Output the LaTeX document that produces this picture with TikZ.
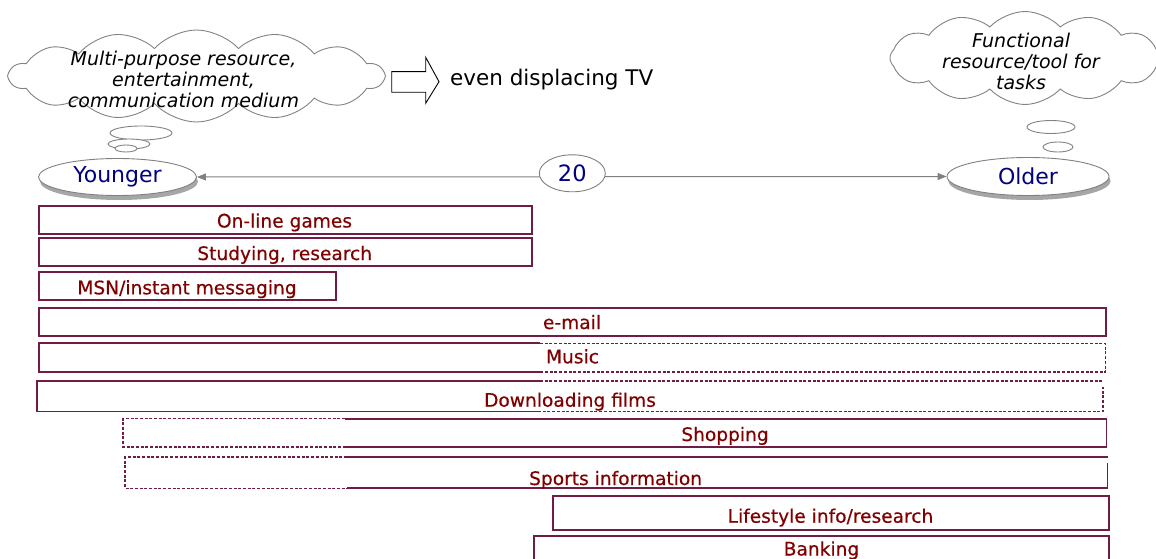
\documentclass[tikz,border=0pt]{standalone}
\usepackage{fontspec}
\setmainfont{DejaVu Sans}
\newfontfamily\barfont[FakeBold=0.5]{DejaVu Sans}
\usetikzlibrary{shapes.symbols,shapes.geometric,arrows.meta,shadows}

\definecolor{barframe}{RGB}{112,28,68}
\definecolor{bartxt}{RGB}{128,0,0}
\definecolor{agetxt}{RGB}{0,0,128}
\definecolor{linkgray}{RGB}{128,128,128}
\definecolor{cloudgray}{RGB}{130,130,130}

\begin{document}
\begin{tikzpicture}[x=1pt,y=-1pt,
  barbox/.style={draw=barframe, line width=1.7pt, rectangle, inner sep=0pt},
  barsolid/.style={draw=barframe, line width=1.7pt},
  bardash/.style={draw=barframe, line width=1.2pt, dash pattern=on 3pt off 1.7pt},
  bartext/.style={text=bartxt, font=\barfont\fontsize{18.6}{22}\selectfont, anchor=base, inner sep=0pt},
  thought/.style={cloud, cloud ignores aspect, draw=cloudgray, line width=0.9pt, fill=white, inner sep=0pt},
  thoughttext/.style={font=\fontsize{19}{21}\selectfont\itshape, align=center, inner sep=0pt},
  bubble/.style={ellipse, draw=cloudgray, line width=0.9pt, fill=white, inner sep=0pt},
  agebox/.style={ellipse, draw=linkgray, line width=0.9pt, fill=white, inner sep=0pt,
    text=agetxt, font=\fontsize{22}{24}\selectfont,
    drop shadow={shadow xshift=1.5pt, shadow yshift=-4.5pt, fill=gray!70, opacity=1}},
  agearrow/.style={draw=linkgray, line width=1pt,
    {Triangle[length=9pt,width=7pt]}-{Triangle[length=9pt,width=7pt]}},
  blockarrow/.style={draw=black, line width=0.9pt, fill=white, line join=miter}
]
\useasboundingbox (0,0) rectangle (1156,559);

% ---------- thought clouds ----------
\node[thought, cloud puffs=14, cloud puff arc=95, minimum width=374, minimum height=92] (cloudL) at (196.5,76) {};
\node[thoughttext] (cloudLtext) at (183.5,79) {Multi-purpose resource,\\entertainment,\\communication medium};
\node[bubble, minimum width=62, minimum height=14] (bubL1) at (141,133) {};
\node[bubble, minimum width=42, minimum height=10] (bubL2) at (129,144) {};
\node[bubble, minimum width=22, minimum height=7] (bubL3) at (126,148.5) {};

\node[thought, cloud puffs=12, cloud puff arc=95, minimum width=270, minimum height=93] (cloudR) at (1025,58) {};
\node[thoughttext] (cloudRtext) at (1021,61.5) {Functional\\resource/tool for\\tasks};
\node[bubble, minimum width=48, minimum height=13] (bubR1) at (1051,127) {};
\node[bubble, minimum width=30, minimum height=10] (bubR2) at (1058,147) {};

% ---------- block arrow and remark ----------
\draw[blockarrow] (391.7,71.7) -- (425.7,71.7) -- (425.7,57.3) -- (439,81.7)
  -- (425.7,103.3) -- (425.7,92.3) -- (391.7,92.3) -- cycle;
\node[anchor=base west, inner sep=0pt, font=\fontsize{21.5}{24}\selectfont] (tv) at (450,86) {even displacing TV};

% ---------- age axis ----------
\node[agebox, minimum width=158, minimum height=37] (young) at (117.5,177) {Younger};
\node[agebox, minimum width=162, minimum height=38] (older) at (1028,176.5) {Older};
\draw[agearrow] (young.east) -- (older.west);
\node[ellipse, draw=linkgray, line width=0.9pt, fill=white, inner sep=0pt,
  minimum width=66, minimum height=37, text=agetxt, font=\fontsize{22.5}{24}\selectfont] (gap) at (572.3,173.3) {20};

% ---------- activity bars ----------
\node[barbox, minimum width=493, minimum height=28] (games) at (285.5,220) {};
\node[bartext] (gamesT) at (284.5,227.5) {On-line games};

\node[barbox, minimum width=493, minimum height=28] (study) at (285.5,252.3) {};
\node[bartext] (studyT) at (284.7,260) {Studying, research};

\node[barbox, minimum width=297, minimum height=28] (msn) at (187.7,286.3) {};
\node[bartext] (msnT) at (187,294.3) {MSN/instant messaging};

\node[barbox, minimum width=1067, minimum height=27.4] (mail) at (572.5,322) {};
\node[bartext] (mailT) at (572,329) {e-mail};

% music: solid for the younger half, dashed towards older users
\draw[barsolid] (540,343) -- (39,343) -- (39,372) -- (540,372);
\draw[bardash] (540,343.5) -- (1105.5,343.5) -- (1105.5,372) -- (540,372);
\node[bartext] (musicT) at (572.5,363.3) {Music};

% downloading films
\draw[barsolid] (540,380.7) -- (37,380.7) -- (37,411.5) -- (538,411.5);
\draw[bardash] (540,381) -- (1103,381);
\draw[bardash] (538,411.5) -- (1103,411.5) -- (1103,386.5);
\node[bartext] (filmsT) at (570,406.7) {Downloading films};

% shopping: dashed for the youngest, solid after
\draw[bardash] (345,418.7) -- (123,418.7) -- (123,447) -- (345,447);
\draw[barsolid] (345,418.7) -- (1106.5,418.7) -- (1106.5,447) -- (345,447);
\node[bartext] (shopT) at (725,441) {Shopping};

% sports information
\draw[bardash] (347,457) -- (125,457) -- (125,488.3) -- (347,488.3);
\draw[barsolid] (347,457) -- (1108,457);
\draw[barsolid] (347,488.3) -- (1107.5,488.3) -- (1107.5,462.5);
\node[bartext] (sportT) at (615.6,485) {Sports information};

\node[barbox, minimum width=556, minimum height=34] (life) at (831,513.2) {};
\node[bartext] (lifeT) at (830.5,522.7) {Lifestyle info/research};

\draw[barsolid] (534,570) -- (534,536) -- (1109,536) -- (1109,570);
\node[bartext] (bankT) at (821.5,555.5) {Banking};
\end{tikzpicture}
\end{document}
